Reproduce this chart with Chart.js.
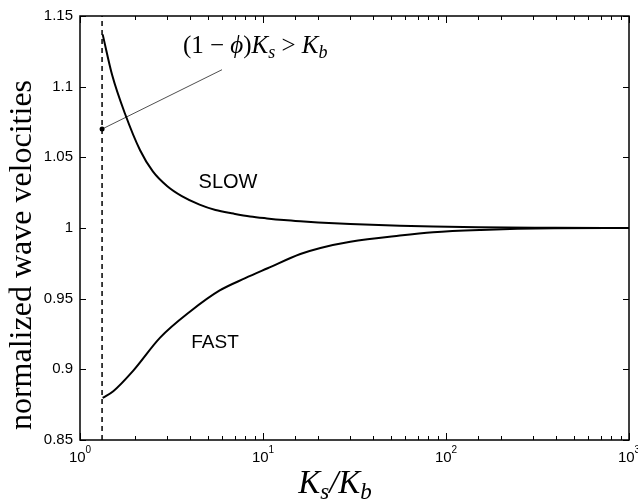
<!DOCTYPE html>
<html>
<head>
<meta charset="utf-8">
<script src="https://cdn.jsdelivr.net/npm/chart.js@4.4.1/dist/chart.umd.min.js"></script>
<style>
  body { margin: 0; background: #fff; }
  #box { width: 638px; height: 500px; }
</style>
</head>
<body>
<div id="box"><canvas id="waveChart"></canvas></div>
<script>
// Ks/Kb ratio and normalized velocities
const slowRatio = [1.33, 1.5, 1.76, 2.13, 2.5, 3.0, 3.6, 4.5, 5.5, 6.9, 8.5, 10.5, 13, 16, 20, 30, 56, 85, 150, 390, 1000];
const slowVel   = [1.137, 1.108, 1.081, 1.055, 1.040, 1.0295, 1.0225, 1.0165, 1.0127, 1.0102, 1.0082, 1.0068, 1.0056, 1.0047, 1.0039, 1.0028, 1.0016, 1.0010, 1.0005, 1.0002, 1.0];

const fastRatio = [1.33, 1.52, 1.95, 2.74, 4.0, 5.8, 8.0, 10.6, 16, 20.6, 30, 56, 85, 155, 390, 1000];
const fastVel   = [0.8798, 0.8845, 0.8989, 0.9224, 0.9409, 0.9558, 0.9645, 0.9715, 0.9816, 0.9859, 0.9903, 0.9947, 0.997, 0.9986, 0.9998, 1.0];

// limit (1-phi)Ks = Kb and the annotation pointer
const limitRatio = 1.32;
const pointerRatio = [1.32, 5.97];
const pointerVel = [1.07, 1.112];

const yTickValues = [0.85, 0.9, 0.95, 1, 1.05, 1.1, 1.15];
const xDecades = [1, 10, 100, 1000];

const toXY = (xs, ys) => xs.map((v, i) => ({ x: v, y: ys[i] }));

const SERIF = '"Liberation Serif", "DejaVu Serif", serif';
const SANS = '"Liberation Sans", Arial, sans-serif';

// draws a sequence of [text, font, dy] pieces
function richText(ctx, parts, x, y, align) {
  let w = 0;
  parts.forEach(p => { ctx.font = p[1]; w += ctx.measureText(p[0]).width; });
  let cx = align === 'center' ? x - w / 2 : x;
  ctx.textAlign = 'left';
  ctx.textBaseline = 'alphabetic';
  parts.forEach(p => {
    ctx.font = p[1];
    ctx.fillText(p[0], cx, y + (p[2] || 0));
    cx += ctx.measureText(p[0]).width;
  });
}

const isDecade = v => Math.abs(Math.log10(v) - Math.round(Math.log10(v))) < 1e-6;

const decor = {
  id: 'decor',
  afterDatasetsDraw(chart) {
    const { ctx, chartArea: a, scales: { x, y } } = chart;
    ctx.save();
    ctx.strokeStyle = '#000';
    ctx.fillStyle = '#000';

    // box
    ctx.lineWidth = 1.5;
    ctx.strokeRect(a.left, a.top, a.right - a.left, a.bottom - a.top);

    // inward ticks
    ctx.lineWidth = 1;
    ctx.beginPath();
    x.ticks.forEach(t => {
      const px = Math.round(x.getPixelForValue(t.value)) + 0.5;
      const len = isDecade(t.value) ? 7 : 4;
      ctx.moveTo(px, a.bottom); ctx.lineTo(px, a.bottom - len);
      ctx.moveTo(px, a.top); ctx.lineTo(px, a.top + len);
    });
    yTickValues.forEach(v => {
      const py = Math.round(y.getPixelForValue(v)) + 0.5;
      ctx.moveTo(a.left, py); ctx.lineTo(a.left + 6, py);
      ctx.moveTo(a.right, py); ctx.lineTo(a.right - 6, py);
    });
    ctx.stroke();

    // x tick labels 10^k
    xDecades.forEach(v => {
      const px = x.getPixelForValue(v);
      const k = String(Math.round(Math.log10(v)));
      richText(ctx, [['10', '15px ' + SANS], [k, '10px ' + SANS, -9]], px, a.bottom + 22, 'center');
    });

    // x axis title Ks/Kb
    const it = 'italic 33px ' + SERIF, sub = 'italic 23px ' + SERIF;
    richText(ctx, [['K', it], ['s', sub, 6], ['/', it], ['K', it], ['b', sub, 6]], 335, 493, 'center');

    // y axis title
    ctx.save();
    ctx.translate(31, 255);
    ctx.rotate(-Math.PI / 2);
    ctx.font = '32px ' + SERIF;
    ctx.textAlign = 'center';
    ctx.textBaseline = 'alphabetic';
    ctx.fillText('normalized wave velocities', 0, 0);
    ctx.restore();

    // annotation
    const ai = 'italic 25px ' + SERIF, as = 'italic 18px ' + SERIF, ar = '25px ' + SERIF;
    richText(ctx, [['(1 \u2212 ', ar], ['\u03d5', ai], [')', ar], ['K', ai], ['s', as, 5], [' > ', ar], ['K', ai], ['b', as, 5]],
      x.getPixelForValue(3.65), 53, 'left');

    // curve names
    ctx.font = '20px ' + SANS;
    ctx.textAlign = 'center';
    ctx.textBaseline = 'middle';
    ctx.fillText('SLOW', x.getPixelForValue(6.44), y.getPixelForValue(1.032));
    ctx.font = '19px ' + SANS;
    ctx.fillText('FAST', x.getPixelForValue(5.47), y.getPixelForValue(0.9185));
    ctx.restore();
  }
};

new Chart(document.getElementById('waveChart'), {
  type: 'line',
  data: {
    datasets: [
      {
        label: 'slow',
        data: toXY(slowRatio, slowVel),
        borderColor: '#000',
        borderWidth: 2,
        pointRadius: 0,
        cubicInterpolationMode: 'monotone'
      },
      {
        label: 'fast',
        data: toXY(fastRatio, fastVel),
        borderColor: '#000',
        borderWidth: 2,
        pointRadius: 0,
        cubicInterpolationMode: 'monotone'
      },
      {
        label: 'limit',
        data: [{ x: limitRatio, y: 0.85 }, { x: limitRatio, y: 1.15 }],
        borderColor: '#000',
        borderWidth: 1.5,
        borderDash: [5, 4],
        pointRadius: 0
      },
      {
        label: 'pointer',
        data: toXY(pointerRatio, pointerVel),
        borderColor: '#222',
        borderWidth: 0.8,
        pointRadius: [2.5, 0],
        pointBackgroundColor: '#000',
        pointBorderWidth: 0
      }
    ]
  },
  options: {
    responsive: true,
    maintainAspectRatio: false,
    animation: false,
    layout: { padding: { top: 15, right: 9, left: 0, bottom: 0 } },
    plugins: { legend: { display: false }, tooltip: { enabled: false } },
    scales: {
      x: {
        type: 'logarithmic',
        min: 1,
        max: 1000,
        grid: { display: false, drawTicks: false },
        border: { display: false },
        ticks: { display: false, autoSkip: false },
        afterFit: s => { s.height = 60; }
      },
      y: {
        min: 0.85,
        max: 1.15,
        grid: { display: false, drawTicks: false },
        border: { display: false },
        ticks: {
          stepSize: 0.05,
          padding: 7,
          color: '#000',
          font: { family: SANS, size: 15 },
          callback: v => String(Number(v.toFixed(2)))
        },
        afterFit: s => { s.width = 80; }
      }
    }
  },
  plugins: [decor]
});
</script>
</body>
</html>
